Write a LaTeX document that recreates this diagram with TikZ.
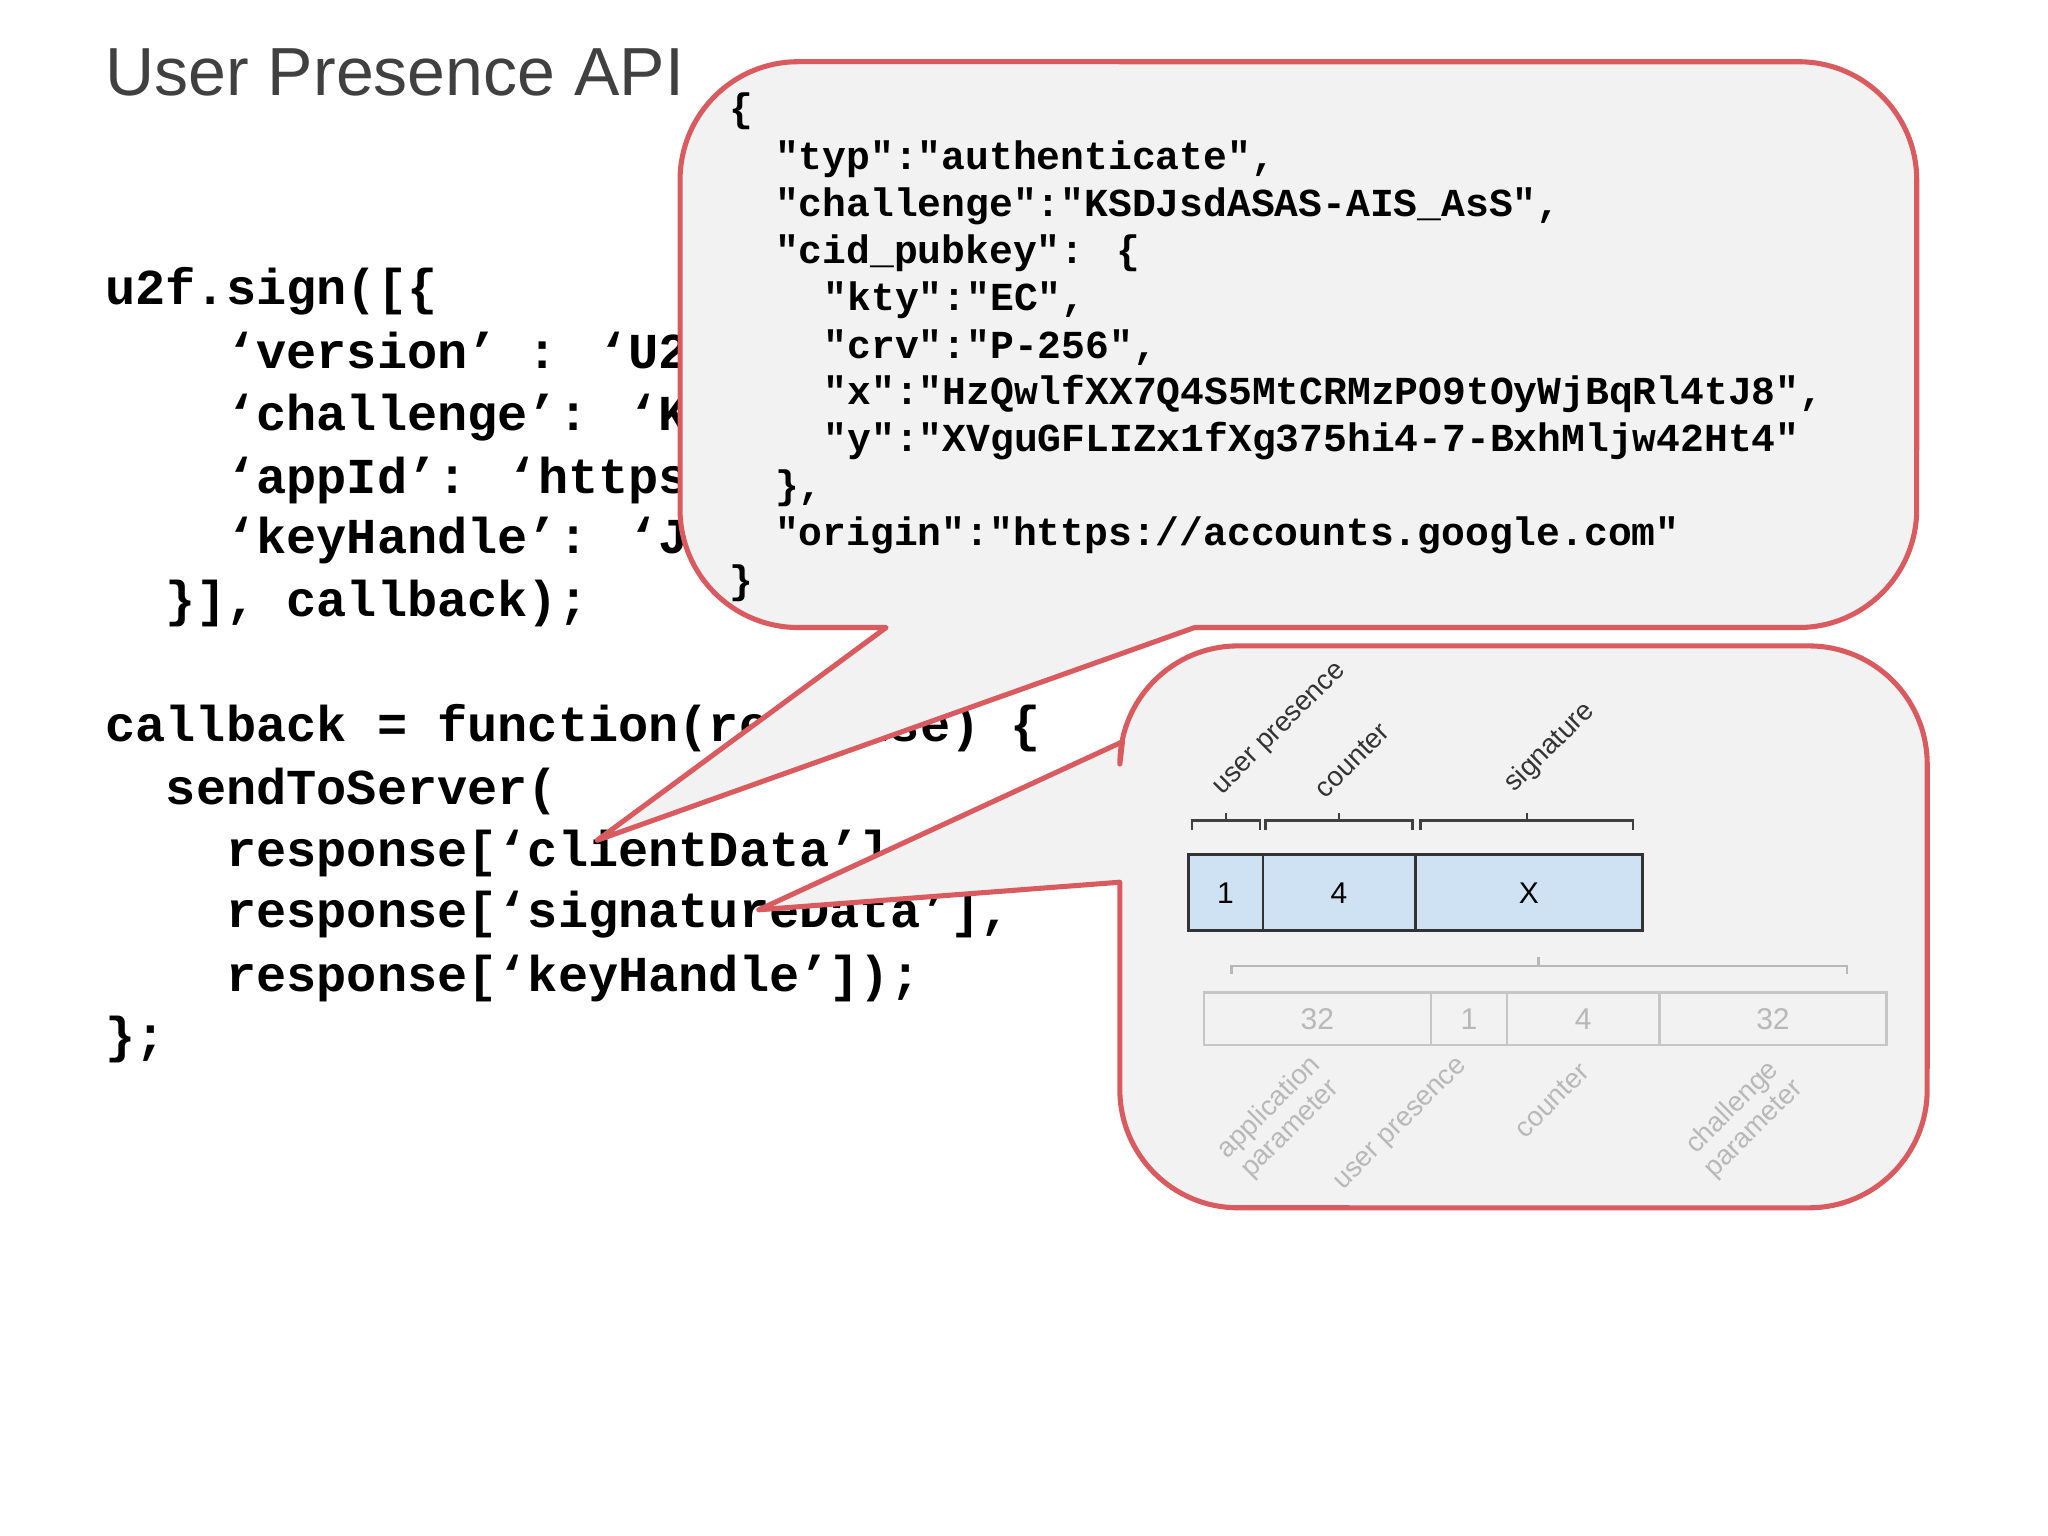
\documentclass[tikz,border=0pt]{standalone}
\usepackage{fontspec}
\setmainfont{Liberation Sans}
\newfontfamily\codefont{Liberation Mono}
\definecolor{bred}{HTML}{D95A5F}
\definecolor{bfill}{HTML}{F3F2F3}
\definecolor{cellblue}{HTML}{CFE2F3}
\definecolor{lgray}{HTML}{B8B8B8}
\begin{document}
\begin{tikzpicture}[x=0.02cm,y=-0.02cm,
  code/.style={anchor=west,inner sep=0,font=\codefont\bfseries\fontsize{21.8}{26}\selectfont},
  json/.style={anchor=west,inner sep=0,font=\codefont\bfseries\fontsize{17.2}{21}\selectfont},
  bubble/.style={draw=bred,line width=2.2pt,fill=bfill,line join=round},
  cell/.style={draw=black!80,line width=1.2pt,fill=cellblue,minimum height=1.16cm,inner sep=0,font=\fontsize{13}{15}\selectfont},
  gcell/.style={draw=lgray!80,line width=1pt,minimum height=0.8cm,inner sep=0,text=lgray,font=\fontsize{13}{15}\selectfont},
  brk/.style={draw=black!75,line width=1pt},
  gbrk/.style={draw=lgray,line width=1pt},
  lab/.style={font=\fontsize{12}{14}\selectfont,text=black!80,rotate=45,anchor=south west,inner sep=1pt},
  glab/.style={font=\fontsize{12}{13}\selectfont,text=lgray,rotate=45,align=center,inner sep=1pt},
  rr/.style={radius=1.8cm}]
\useasboundingbox (0,0) rectangle (1560,1170);
\node[anchor=west,inner sep=0,font=\fontsize{29.5}{34}\selectfont,text=black!75] (title) at (80,55) {User Presence API};
% code
\node[code] (c1) at (80,222) {u2f.sign([\{};
\node[code] (c2) at (172,270) {‘version’ : ‘U2F\_V2’,};
\node[code] (c3) at (172,318) {‘challenge’: ‘KSDJsdASAS-AIS\_AsS’,};
\node[code] (c4) at (172,366) {‘appId’: ‘https://accounts.google.com’,};
\node[code] (c5) at (172,412) {‘keyHandle’: ‘JSKDLKJD’};
\node[code] (c6) at (126,460) {\}], callback);};
\node[code] (c7) at (80,555) {callback = function(response) \{};
\node[code] (c8) at (126,603) {sendToServer(};
\node[code] (c9) at (172,650) {response[‘clientData’],};
\node[code] (c10) at (172,697) {response[‘signatureData’],};
\node[code] (c11) at (172,745) {response[‘keyHandle’]);};
\node[code] (c12) at (80,792) {\};};
% top bubble
\coordinate (t1) at (455,640);
\path[bubble] (675,478) -- (t1) -- (910,478) -- (1370,478) arc[start angle=-90,end angle=0,rr] -- (1460,137) arc[start angle=0,end angle=90,rr] -- (608,47) arc[start angle=90,end angle=180,rr] -- (518,388) arc[start angle=180,end angle=270,rr] -- cycle;
\node[json] (j1) at (555,85) {\{};
\node[json] (j2) at (590,121) {"typ":"authenticate",};
\node[json] (j3) at (590,157) {"challenge":"KSDJsdASAS-AIS\_AsS",};
\node[json] (j4) at (590,193) {"cid\_pubkey": \{};
\node[json] (j5) at (627,229) {"kty":"EC",};
\node[json] (j6) at (627,265) {"crv":"P-256",};
\node[json] (j7) at (627,300) {"x":"HzQwlfXX7Q4S5MtCRMzPO9tOyWjBqRl4tJ8",};
\node[json] (j8) at (627,336) {"y":"XVguGFLIZx1fXg375hi4-7-BxhMljw42Ht4"};
\node[json] (j9) at (590,372) {\},};
\node[json] (j10) at (590,408) {"origin":"https://accounts.google.com"};
\node[json] (j11) at (555,444) {\}};
% lower bubble
\coordinate (t2) at (578,693);
\path[bubble] (855,565) -- (t2) -- (853,672) -- (853,830) arc[start angle=180,end angle=270,rr] -- (1378,920) arc[start angle=270,end angle=360,rr] -- (1468,582) arc[start angle=0,end angle=90,rr] -- (943,492) arc[start angle=90,end angle=180,rr] -- cycle;
% blue cells
\node[cell,minimum width=1.14cm] (b1) at (933.5,680) {1};
\node[cell,minimum width=2.32cm] (b2) at (1020,680) {4};
\node[cell,minimum width=3.46cm] (b3) at (1164.5,680) {X};
% brackets above
\draw[brk] (908,632) -- (908,625) -- (960,625) -- (960,632) (934,625) -- (934,619);
\draw[brk] (964,632) -- (964,625) -- (1076,625) -- (1076,632) (1020,625) -- (1020,619);
\draw[brk] (1082,632) -- (1082,625) -- (1244,625) -- (1244,632) (1163,625) -- (1163,619);
\node[lab] (l1) at (934,612) {user presence};
\node[lab] (l2) at (1010,612) {counter};
\node[lab] (l3) at (1157,610) {signature};
% gray bracket and cells
\draw[gbrk] (938,742) -- (938,736) -- (1407,736) -- (1407,742) (1172,736) -- (1172,729);
\node[gcell,minimum width=3.46cm] (g1) at (1003.5,776) {32};
\node[gcell,minimum width=1.16cm] (g2) at (1119,776) {1};
\node[gcell,minimum width=2.32cm] (g3) at (1206,776) {4};
\node[gcell,minimum width=3.46cm] (g4) at (1350.5,776) {32};
\node[glab] (m1) at (975,852) {application\\parameter};
\node[glab] (m2) at (1068,857) {user presence};
\node[glab] (m3) at (1182,838) {counter};
\node[glab] (m4) at (1328,852) {challenge\\parameter};
\end{tikzpicture}
\end{document}
